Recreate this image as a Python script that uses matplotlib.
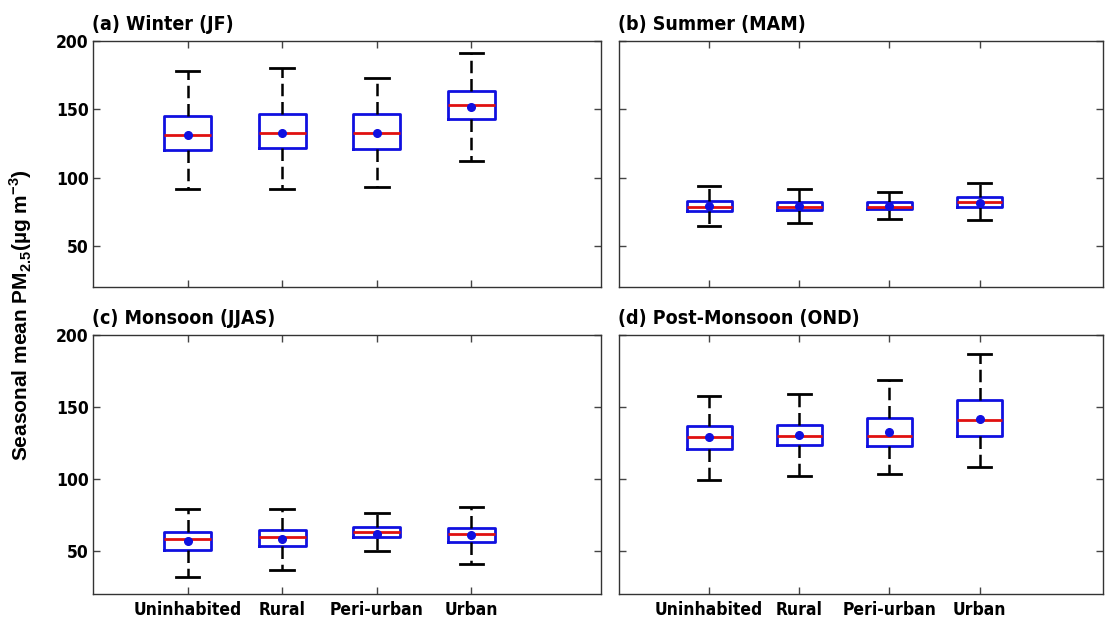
import matplotlib.pyplot as plt
from matplotlib import font_manager
import numpy as np

plt.rcParams['mathtext.fontset'] = 'custom'
plt.rcParams['mathtext.rm'] = 'Liberation Sans'
plt.rcParams['mathtext.bf'] = 'Liberation Sans:bold'

sites = ['Uninhabited', 'Rural', 'Peri-urban', 'Urban']
titles = ['(a) Winter (JF)', '(b) Summer (MAM)', '(c) Monsoon (JJAS)', '(d) Post-Monsoon (OND)']

# one row per season (JF, MAM, JJAS, OND), one column per site class
whislo = [[91.4, 91.4, 93.1, 112.5],
          [64.6, 67.1, 69.6, 68.8],
          [31.5, 37.0, 49.8, 41.0],
          [99.3, 101.9, 103.5, 108.4]]
q1 = [[120.0, 122.0, 121.0, 143.2],
      [75.4, 76.2, 76.9, 78.5],
      [50.5, 53.5, 59.7, 56.0],
      [121.0, 123.3, 122.6, 129.8]]
median = [[131.0, 133.0, 133.0, 153.2],
          [78.9, 78.5, 78.5, 82.6],
          [57.9, 59.3, 63.0, 61.6],
          [129.1, 130.0, 130.0, 141.2]]
q3 = [[145.0, 146.3, 146.3, 163.5],
      [83.3, 82.6, 82.6, 86.2],
      [63.4, 64.4, 66.7, 65.7],
      [136.5, 137.2, 142.1, 154.9]]
whishi = [[178.0, 180.0, 173.3, 191.0],
          [94.3, 91.6, 89.9, 96.0],
          [79.0, 79.0, 76.0, 80.8],
          [157.9, 158.8, 168.4, 186.7]]
means = [[131.6, 133.0, 133.0, 151.7],
         [79.6, 79.0, 79.5, 81.6],
         [56.5, 58.0, 62.0, 60.7],
         [128.8, 130.2, 132.8, 141.6]]

# narrow font if the condensed DejaVu is around, otherwise Arial-like Liberation
fp = font_manager.FontProperties(family='DejaVu Sans', stretch='condensed', weight='bold')
if 'Condensed' in font_manager.findfont(fp):
    narrow = dict(family='DejaVu Sans', stretch='condensed')
    tsize, lsize = 12.5, 14
else:
    narrow = dict(family='Liberation Sans')
    tsize, lsize = 12, 13

fig = plt.figure(figsize=(11.05, 6.21), dpi=100)
rects = [[0.0842, 0.5378, 0.4597, 0.396],
         [0.5602, 0.5378, 0.4380, 0.396],
         [0.0842, 0.0435, 0.4597, 0.417],
         [0.5602, 0.0435, 0.4380, 0.417]]

pos = np.arange(1, len(sites) + 1)
for k, rect in enumerate(rects):
    ax = fig.add_axes(rect)
    stats = []
    for i in range(len(sites)):
        stats.append({'whislo': whislo[k][i], 'q1': q1[k][i], 'med': median[k][i],
                      'q3': q3[k][i], 'whishi': whishi[k][i], 'mean': means[k][i],
                      'fliers': []})
    ax.bxp(stats, positions=pos, widths=0.5, capwidths=0.25,
           showmeans=True, showfliers=False,
           boxprops=dict(color='#1010e0', lw=2),
           whiskerprops=dict(color='black', lw=1.8, linestyle=(0, (5, 2.3))),
           capprops=dict(color='black', lw=2),
           medianprops=dict(color='#e01010', lw=2),
           meanprops=dict(marker='o', markerfacecolor='#1010e0',
                          markeredgecolor='#1010e0', markersize=5.5))

    ax.set_xlim(0, 5.37)
    ax.set_ylim(20, 200)
    ax.set_yticks([50, 100, 150, 200])
    ax.set_xticks(pos)
    ax.set_xticklabels(sites)
    for s in ax.spines.values():
        s.set_color('#333333')
        s.set_linewidth(1)
    ax.tick_params(direction='in', top=True, right=True, length=5, width=1,
                   color='#444444', labelleft=(k % 2 == 0), labelbottom=(k >= 2))
    ax.tick_params(axis='y', pad=3)
    ax.tick_params(axis='x', pad=5)
    for lab in ax.get_xticklabels() + ax.get_yticklabels():
        lab.set(fontweight='bold', fontsize=tsize, **narrow)
    ax.annotate(titles[k], xy=(0, 1), xycoords='axes fraction', xytext=(-1, 8),
                textcoords='offset points', va='baseline', ha='left',
                fontsize=lsize, fontweight='bold', **narrow)

fig.text(0.019, 0.493, 'Seasonal mean PM$_{\\mathbf{2.5}}$(µg m$^{\\mathbf{-3}}$)',
         rotation=90, ha='center', va='center', fontsize=15, fontweight='bold',
         family=['Liberation Sans', 'DejaVu Sans'])

fig.savefig('out.png', dpi=100)
